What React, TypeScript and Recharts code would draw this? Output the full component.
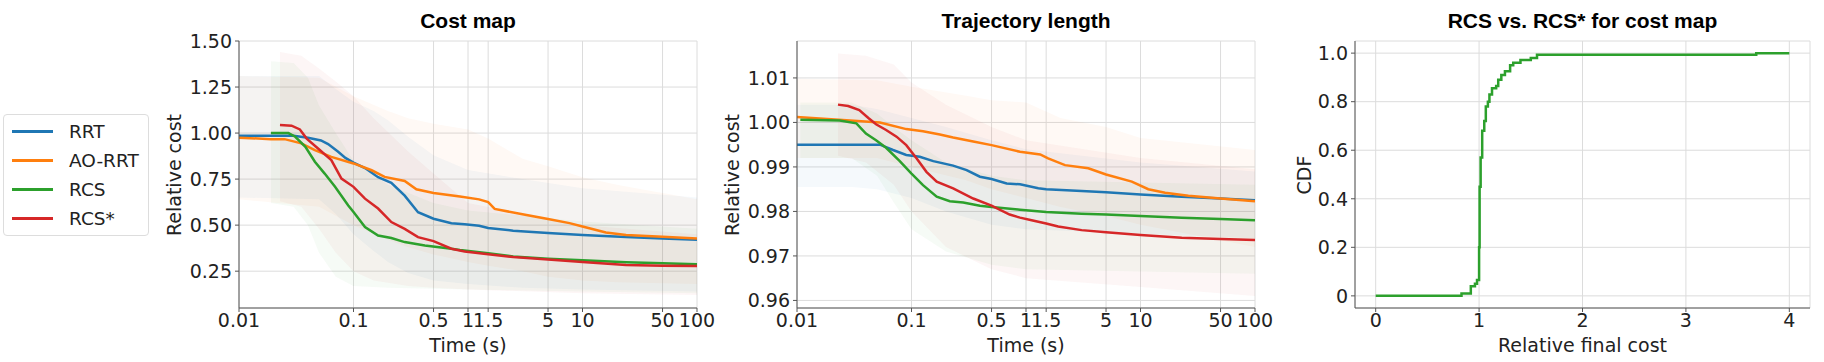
import React from "react";
import { ComposedChart, Line, Area, XAxis, YAxis, CartesianGrid } from "recharts";

// ---- axis ticks ----
const timeTicks = [0.01, 0.1, 0.5, 1, 1.5, 5, 10, 50, 100];
const costTicks = [0.25, 0.5, 0.75, 1.0, 1.25, 1.5];
const lenTicks = [0.96, 0.97, 0.98, 0.99, 1.0, 1.01];
const cdfXTicks = [0, 1, 2, 3, 4];
const cdfYTicks = [0, 0.2, 0.4, 0.6, 0.8, 1.0];

const seriesNames = ["RRT", "AO-RRT", "RCS", "RCS*"];
const seriesColors = ["#1f77b4", "#ff7f0e", "#2ca02c", "#d62728"];

// ---- Cost map: mean curves ----
const costRrtT = [0.01, 0.03, 0.04, 0.052, 0.06, 0.073, 0.085, 0.1, 0.126, 0.164, 0.214, 0.28, 0.366, 0.5, 0.716, 0.935, 1.25, 1.5, 2.48, 5, 10, 24, 50, 100];
const costRrtV = [0.985, 0.985, 0.975, 0.96, 0.94, 0.9, 0.865, 0.84, 0.81, 0.76, 0.73, 0.66, 0.57, 0.535, 0.51, 0.505, 0.497, 0.485, 0.47, 0.457, 0.447, 0.435, 0.427, 0.42];
const costAoT = [0.01, 0.019, 0.025, 0.035, 0.046, 0.064, 0.1, 0.144, 0.187, 0.28, 0.354, 0.5, 0.85, 1.25, 1.5, 1.71, 3.24, 5, 7.7, 10, 16, 24, 50, 100];
const costAoV = [0.975, 0.967, 0.967, 0.944, 0.907, 0.871, 0.835, 0.798, 0.762, 0.74, 0.695, 0.675, 0.655, 0.64, 0.625, 0.588, 0.555, 0.533, 0.511, 0.493, 0.46, 0.446, 0.437, 0.427];
const costRcsT = [0.019, 0.027, 0.031, 0.038, 0.046, 0.056, 0.069, 0.09, 0.1, 0.126, 0.164, 0.214, 0.28, 0.42, 0.716, 0.85, 1.5, 2.48, 5, 10, 24, 50, 100];
const costRcsV = [1.0, 1.0, 0.98, 0.925, 0.844, 0.78, 0.708, 0.607, 0.571, 0.49, 0.444, 0.43, 0.408, 0.39, 0.372, 0.365, 0.347, 0.33, 0.318, 0.309, 0.298, 0.293, 0.287];
const costRcsStarT = [0.0228, 0.0288, 0.034, 0.039, 0.049, 0.064, 0.0785, 0.1, 0.126, 0.164, 0.214, 0.28, 0.366, 0.5, 0.716, 0.935, 1.5, 2.48, 5, 10, 24, 50, 100];
const costRcsStarV = [1.044, 1.04, 1.02, 0.97, 0.916, 0.853, 0.753, 0.708, 0.644, 0.59, 0.517, 0.48, 0.435, 0.413, 0.372, 0.357, 0.342, 0.327, 0.314, 0.3, 0.283, 0.28, 0.278];

// ---- Cost map: spread bands ----
const costRrtBandT = [0.01, 0.05, 0.07, 0.1, 0.15, 0.2, 0.3, 0.5, 1, 3, 10, 100];
const costRrtLo = [0.65, 0.64, 0.56, 0.45, 0.36, 0.3, 0.24, 0.2, 0.18, 0.16, 0.15, 0.14];
const costRrtHi = [1.31, 1.31, 1.24, 1.17, 1.12, 1.07, 0.98, 0.88, 0.8, 0.75, 0.7, 0.65];
const costAoBandT = [0.01, 0.05, 0.1, 0.2, 0.3, 0.5, 1, 1.5, 3, 5, 10, 20, 100];
const costAoLo = [0.64, 0.6, 0.5, 0.42, 0.38, 0.34, 0.3, 0.28, 0.25, 0.22, 0.2, 0.19, 0.18];
const costAoHi = [1.31, 1.3, 1.2, 1.12, 1.08, 1.05, 1.02, 0.97, 0.86, 0.82, 0.76, 0.72, 0.64];
const costRcsBandT = [0.019, 0.03, 0.04, 0.05, 0.07, 0.1, 0.2, 0.5, 1, 10, 100];
const costRcsLo = [0.62, 0.6, 0.5, 0.35, 0.22, 0.17, 0.16, 0.155, 0.15, 0.14, 0.13];
const costRcsHi = [1.39, 1.38, 1.3, 1.15, 1.0, 0.85, 0.72, 0.62, 0.58, 0.52, 0.48];
const costRcsStarBandT = [0.0228, 0.035, 0.05, 0.07, 0.1, 0.15, 0.3, 0.5, 1, 10, 100];
const costRcsStarLo = [0.63, 0.6, 0.48, 0.35, 0.25, 0.2, 0.17, 0.16, 0.15, 0.13, 0.12];
const costRcsStarHi = [1.44, 1.42, 1.35, 1.28, 1.2, 1.08, 0.9, 0.78, 0.62, 0.5, 0.45];

// ---- Trajectory length: mean curves ----
const lenRrtT = [0.01, 0.053, 0.069, 0.09, 0.118, 0.155, 0.231, 0.303, 0.396, 0.5, 0.678, 0.887, 1.28, 1.5, 3.06, 5, 10, 22.9, 50, 100];
const lenRrtV = [0.995, 0.995, 0.9938, 0.9927, 0.9923, 0.9913, 0.9903, 0.9893, 0.9878, 0.9873, 0.9863, 0.9861, 0.9852, 0.985, 0.9846, 0.9843, 0.9838, 0.9833, 0.9829, 0.9825];
const lenAoT = [0.01, 0.027, 0.053, 0.09, 0.126, 0.177, 0.231, 0.346, 0.5, 0.887, 1.33, 1.56, 2.19, 3.5, 5, 8.4, 11.7, 16.4, 26.2, 50, 100];
const lenAoV = [1.0012, 1.0005, 1.0, 0.9985, 0.998, 0.9973, 0.9966, 0.9957, 0.9949, 0.9934, 0.9928, 0.9919, 0.9904, 0.9897, 0.9883, 0.9867, 0.985, 0.9842, 0.9835, 0.9829, 0.9823];
const lenRcsT = [0.0107, 0.0236, 0.033, 0.04, 0.049, 0.06, 0.079, 0.1, 0.126, 0.166, 0.216, 0.283, 0.396, 0.5, 0.887, 1.5, 3.06, 5, 10, 22.9, 50, 100];
const lenRcsV = [1.0006, 1.00045, 0.9998, 0.9975, 0.996, 0.9943, 0.9913, 0.9885, 0.9859, 0.9833, 0.9823, 0.982, 0.9813, 0.981, 0.9804, 0.9799, 0.9795, 0.9793, 0.979, 0.9786, 0.9783, 0.978];
const lenRcsStarT = [0.0228, 0.028, 0.035, 0.042, 0.049, 0.06, 0.074, 0.09, 0.111, 0.135, 0.166, 0.231, 0.346, 0.5, 0.72, 0.887, 1.12, 1.5, 1.91, 3.06, 5, 10, 22.9, 50, 100];
const lenRcsStarV = [1.004, 1.0037, 1.0028, 1.001, 0.9996, 0.9983, 0.9968, 0.9949, 0.9919, 0.9889, 0.9867, 0.9852, 0.9829, 0.9813, 0.9793, 0.9786, 0.978, 0.9773, 0.9766, 0.9758, 0.9753, 0.9747, 0.9741, 0.9738, 0.9736];

// ---- Trajectory length: spread bands ----
const lenRrtBandT = [0.01, 0.03, 0.05, 0.1, 0.2, 0.5, 1, 10, 100];
const lenRrtLo = [0.9855, 0.9855, 0.985, 0.983, 0.98, 0.977, 0.976, 0.975, 0.974];
const lenRrtHi = [1.004, 1.004, 1.003, 1.001, 0.999, 0.996, 0.994, 0.991, 0.989];
const lenAoBandT = [0.01, 0.05, 0.1, 0.3, 0.5, 1, 2, 5, 10, 100];
const lenAoLo = [0.992, 0.992, 0.99, 0.987, 0.985, 0.983, 0.981, 0.979, 0.977, 0.972];
const lenAoHi = [1.0098, 1.0095, 1.008, 1.006, 1.005, 1.0045, 1.001, 0.999, 0.9965, 0.9938];
const lenRcsBandT = [0.0107, 0.03, 0.05, 0.07, 0.1, 0.2, 0.5, 1, 10, 100];
const lenRcsLo = [0.992, 0.992, 0.988, 0.982, 0.976, 0.971, 0.968, 0.967, 0.9665, 0.966];
const lenRcsHi = [1.0045, 1.0045, 1.002, 0.999, 0.996, 0.991, 0.988, 0.987, 0.9865, 0.986];
const lenRcsStarBandT = [0.0228, 0.04, 0.07, 0.1, 0.2, 0.5, 1, 10, 100];
const lenRcsStarLo = [0.9925, 0.991, 0.986, 0.98, 0.972, 0.967, 0.965, 0.963, 0.961];
const lenRcsStarHi = [1.0155, 1.015, 1.013, 1.009, 1.004, 0.999, 0.996, 0.992, 0.9895];

// ---- RCS vs RCS* CDF ----
const cdfX = [0, 0.83, 0.92, 0.96, 0.98, 1.0, 1.005, 1.015, 1.03, 1.05, 1.065, 1.085, 1.1, 1.125, 1.165, 1.185, 1.215, 1.25, 1.3, 1.33, 1.4, 1.5, 1.56, 3.68, 4.0];
const cdfY = [0, 0.01, 0.04, 0.05, 0.065, 0.2, 0.45, 0.57, 0.68, 0.72, 0.78, 0.8, 0.83, 0.855, 0.865, 0.89, 0.91, 0.925, 0.95, 0.96, 0.972, 0.98, 0.993, 1.0, 1.0];

type Pt = { t: number; v: number };
type Bd = { t: number; r: [number, number] };
type Series = { name: string; color: string; pts: Pt[]; band?: Bd[] };

const pts = (t: number[], v: number[]): Pt[] => t.map((x, i) => ({ t: x, v: v[i] }));
const band = (t: number[], lo: number[], hi: number[]): Bd[] =>
  t.map((x, i) => ({ t: x, r: [lo[i], hi[i]] as [number, number] }));

const costSeries: Series[] = [
  { name: seriesNames[0], color: seriesColors[0], pts: pts(costRrtT, costRrtV), band: band(costRrtBandT, costRrtLo, costRrtHi) },
  { name: seriesNames[1], color: seriesColors[1], pts: pts(costAoT, costAoV), band: band(costAoBandT, costAoLo, costAoHi) },
  { name: seriesNames[2], color: seriesColors[2], pts: pts(costRcsT, costRcsV), band: band(costRcsBandT, costRcsLo, costRcsHi) },
  { name: seriesNames[3], color: seriesColors[3], pts: pts(costRcsStarT, costRcsStarV), band: band(costRcsStarBandT, costRcsStarLo, costRcsStarHi) },
];
const lenSeries: Series[] = [
  { name: seriesNames[0], color: seriesColors[0], pts: pts(lenRrtT, lenRrtV), band: band(lenRrtBandT, lenRrtLo, lenRrtHi) },
  { name: seriesNames[1], color: seriesColors[1], pts: pts(lenAoT, lenAoV), band: band(lenAoBandT, lenAoLo, lenAoHi) },
  { name: seriesNames[2], color: seriesColors[2], pts: pts(lenRcsT, lenRcsV), band: band(lenRcsBandT, lenRcsLo, lenRcsHi) },
  { name: seriesNames[3], color: seriesColors[3], pts: pts(lenRcsStarT, lenRcsStarV), band: band(lenRcsStarBandT, lenRcsStarLo, lenRcsStarHi) },
];
const cdfSeries: Series[] = [{ name: "CDF", color: seriesColors[2], pts: pts(cdfX, cdfY) }];

const PLOT_TOP = 41;
const PLOT_BOTTOM = 308;
const H = 362;
const AXIS_W = 60;
const AXIS_H = 30;
const FONT = "'DejaVu Sans', sans-serif";
const FS = 19;
const SPINE = "#555";
const TEXT = "#222";

type PanelProps = {
  left: number;
  width: number;
  x0: number;
  x1: number;
  title: string;
  xLabel: string;
  yLabel: string;
  yLabelX: number;
  log: boolean;
  xDomain: [number, number];
  xTicks: number[];
  xFmt: (v: number) => string;
  yDomain: [number, number];
  yTicks: number[];
  yFmt: (v: number) => string;
  series: Series[];
  step?: boolean;
};

const Panel: React.FC<PanelProps> = (p) => {
  const margin = {
    top: PLOT_TOP,
    bottom: H - PLOT_BOTTOM - AXIS_H,
    left: p.x0 - p.left - AXIS_W,
    right: p.left + p.width - p.x1,
  };
  const tick = { fill: TEXT, fontSize: FS, fontFamily: FONT };
  const cx = (p.x0 + p.x1) / 2;
  return (
    <>
      <div style={{ position: "absolute", left: cx - 250, width: 500, top: 8, textAlign: "center", fontFamily: "'Liberation Sans', Arial, sans-serif", fontWeight: 700, fontSize: 21, color: "#000", lineHeight: "26px" }}>
        {p.title}
      </div>
      <div style={{ position: "absolute", left: cx - 200, width: 400, top: 334, textAlign: "center", fontFamily: FONT, fontSize: FS, color: TEXT, lineHeight: "22px" }}>
        {p.xLabel}
      </div>
      <div style={{ position: "absolute", left: p.yLabelX - 150, top: (PLOT_TOP + PLOT_BOTTOM) / 2 - 11, width: 300, textAlign: "center", fontFamily: FONT, fontSize: FS, color: TEXT, lineHeight: "22px", transform: "rotate(-90deg)" }}>
        {p.yLabel}
      </div>
      <div style={{ position: "absolute", left: p.left, top: 0 }}>
        <ComposedChart width={p.width} height={H} margin={margin}>
          <CartesianGrid stroke="#dcdcdc" strokeWidth={1} />
          <XAxis
            dataKey="t"
            type="number"
            scale={p.log ? "log" : "linear"}
            domain={p.xDomain}
            ticks={p.xTicks}
            interval={0}
            allowDataOverflow
            tickFormatter={p.xFmt}
            tick={tick}
            tickSize={4}
            tickMargin={2}
            height={AXIS_H}
            axisLine={{ stroke: SPINE }}
            tickLine={{ stroke: SPINE }}
          />
          <XAxis xAxisId="top" orientation="top" type="number" domain={[0, 1]} height={0} tick={false} tickLine={false} axisLine={{ stroke: SPINE }} />
          <YAxis
            type="number"
            domain={p.yDomain}
            ticks={p.yTicks}
            interval={0}
            allowDataOverflow
            tickFormatter={p.yFmt}
            tick={tick}
            tickSize={4}
            tickMargin={3}
            width={AXIS_W}
            axisLine={{ stroke: SPINE }}
            tickLine={{ stroke: SPINE }}
          />
          <YAxis yAxisId="right" orientation="right" type="number" domain={[0, 1]} width={0} tick={false} tickLine={false} axisLine={{ stroke: SPINE }} />
          {p.series.filter((s) => s.band).map((s) => (
            <Area
              key={"band-" + s.name}
              data={s.band}
              dataKey="r"
              type="linear"
              stroke="none"
              fill={s.color}
              fillOpacity={0.045}
              legendType="none"
              isAnimationActive={false}
            />
          ))}
          {p.series.map((s) => (
            <Line
              key={"line-" + s.name}
              data={s.pts}
              dataKey="v"
              name={s.name}
              type={p.step ? "stepAfter" : "linear"}
              stroke={s.color}
              strokeWidth={2.5}
              dot={false}
              activeDot={false}
              isAnimationActive={false}
            />
          ))}
        </ComposedChart>
      </div>
    </>
  );
};

const fmtTime = (v: number) => String(v);

const Legend: React.FC = () => (
  <div style={{ position: "absolute", left: 3, top: 114, width: 146, height: 122, border: "1px solid #dddddd", borderRadius: 4, boxSizing: "border-box", background: "#fff" }}>
    {seriesNames.map((n, i) => (
      <div key={n} style={{ position: "absolute", left: 0, top: 2 + i * 29, height: 29, width: 146, display: "flex", alignItems: "center" }}>
        <div style={{ marginLeft: 8, width: 41, height: 3, background: seriesColors[i] }} />
        <span style={{ marginLeft: 16, fontFamily: FONT, fontSize: 18.5, color: TEXT }}>{n}</span>
      </div>
    ))}
  </div>
);

export default function App() {
  return (
    <div style={{ position: "absolute", left: 0, top: 0, width: 1824, height: 362, background: "#fff", overflow: "hidden" }}>
      <Legend />
      <Panel
        left={0}
        width={720}
        x0={239}
        x1={697}
        title="Cost map"
        xLabel="Time (s)"
        yLabel="Relative cost"
        yLabelX={174}
        log
        xDomain={[0.01, 100]}
        xTicks={timeTicks}
        xFmt={fmtTime}
        yDomain={[0.05, 1.5]}
        yTicks={costTicks}
        yFmt={(v) => v.toFixed(2)}
        series={costSeries}
      />
      <Panel
        left={735}
        width={545}
        x0={797}
        x1={1255}
        title="Trajectory length"
        xLabel="Time (s)"
        yLabel="Relative cost"
        yLabelX={732}
        log
        xDomain={[0.01, 100]}
        xTicks={timeTicks}
        xFmt={fmtTime}
        yDomain={[0.9583, 1.0183]}
        yTicks={lenTicks}
        yFmt={(v) => v.toFixed(2)}
        series={lenSeries}
      />
      <Panel
        left={1295}
        width={529}
        x0={1355}
        x1={1810}
        title="RCS vs. RCS* for cost map"
        xLabel="Relative final cost"
        yLabel="CDF"
        yLabelX={1304}
        log={false}
        xDomain={[-0.2, 4.2]}
        xTicks={cdfXTicks}
        xFmt={(v) => String(v)}
        yDomain={[-0.05, 1.05]}
        yTicks={cdfYTicks}
        yFmt={(v) => (v === 0 ? "0" : v.toFixed(1))}
        series={cdfSeries}
        step
      />
    </div>
  );
}
